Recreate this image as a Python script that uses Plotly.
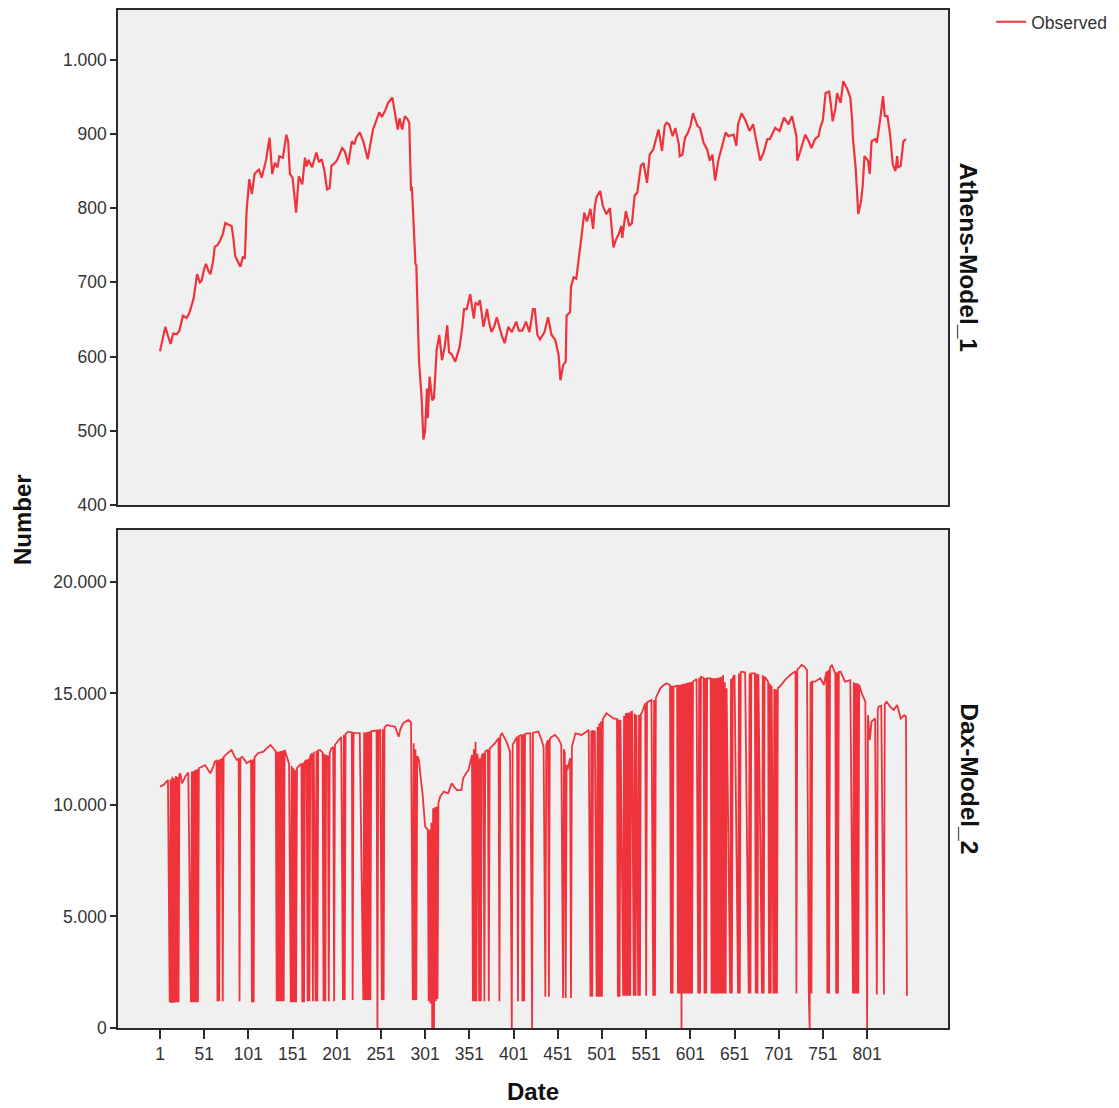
import plotly.graph_objects as go

# ---------------- data ----------------
athens_obs = [
    (1, 607), (4, 625), (7, 640), (10, 628), (13, 617), (16, 631), (20, 630), (23, 635),
    (27, 655), (31, 652), (34, 658), (39, 678), (43, 711), (46, 700), (48, 702), (51, 718),
    (53, 725), (56, 715), (58, 711), (61, 728), (63, 748), (66, 750), (69, 756), (72, 765),
    (75, 780), (78, 778), (82, 776), (84, 760), (86, 736), (89, 728), (92, 721), (95, 735),
    (97, 732), (99, 796), (102, 839), (105, 819), (108, 846), (111, 850), (113, 852),
    (116, 841), (118, 852), (121, 865), (125, 895), (128, 846), (131, 861), (134, 855),
    (136, 870), (140, 868), (144, 899), (146, 890), (148, 846), (151, 841), (155, 794),
    (158, 843), (162, 832), (165, 868), (167, 856), (169, 865), (173, 855), (176, 868),
    (178, 875), (181, 862), (184, 866), (187, 850), (190, 825), (193, 827), (195, 857),
    (198, 860), (201, 864), (204, 872), (207, 881), (210, 877), (214, 859), (218, 890),
    (221, 886), (223, 895), (227, 902), (231, 890), (236, 866), (239, 886), (242, 906),
    (246, 919), (249, 929), (252, 923), (256, 932), (259, 942), (264, 949), (266, 934),
    (270, 906), (272, 921), (275, 906), (278, 924), (281, 920), (283, 915), (285, 823),
    (286, 829), (288, 770), (290, 725), (291, 723), (293, 629), (294, 595), (297, 544),
    (299, 488), (301, 500), (303, 557), (304, 517), (306, 573), (309, 541), (311, 544),
    (314, 609), (317, 629), (320, 595), (323, 612), (326, 642), (328, 606), (331, 603),
    (335, 593), (338, 605), (340, 613), (343, 640), (345, 664), (348, 664), (352, 684),
    (356, 651), (358, 672), (361, 670), (363, 676), (367, 640), (371, 664), (373, 648),
    (376, 633), (379, 640), (382, 653), (385, 640), (388, 627), (391, 618), (395, 640),
    (399, 633), (404, 647), (407, 635), (411, 635), (415, 647), (419, 633), (423, 664),
    (425, 664), (428, 629), (431, 623), (436, 633), (440, 653), (444, 629), (448, 623),
    (452, 602), (454, 568), (457, 588), (460, 593), (461, 655), (465, 660), (466, 694),
    (469, 707), (472, 705), (475, 738), (478, 763), (481, 794), (484, 782), (488, 799),
    (491, 772), (493, 803), (495, 815), (499, 823), (502, 803), (506, 792), (510, 800),
    (514, 747), (517, 758), (520, 765), (523, 776), (524, 760), (528, 796), (532, 776),
    (535, 780), (538, 817), (541, 821), (545, 857), (548, 861), (552, 834), (555, 872),
    (559, 879), (565, 906), (569, 877), (572, 911), (574, 915), (577, 913), (581, 897),
    (584, 908), (588, 886), (589, 870), (592, 872), (595, 895), (598, 901), (601, 910),
    (604, 928), (609, 911), (612, 908), (616, 888), (620, 879), (623, 864), (626, 872),
    (629, 837), (633, 866), (637, 884), (641, 902), (644, 897), (650, 899), (653, 884),
    (655, 913), (659, 928), (663, 919), (668, 904), (672, 913), (675, 895), (680, 864),
    (684, 875), (688, 893), (691, 893), (697, 908), (702, 904), (707, 922), (712, 913),
    (716, 924), (721, 897), (722, 864), (725, 875), (731, 899), (735, 890), (738, 881),
    (742, 893), (746, 897), (748, 908), (751, 919), (754, 955), (758, 957), (760, 940),
    (762, 917), (765, 933), (767, 955), (771, 942), (774, 971), (778, 962), (782, 949),
    (784, 920), (785, 893), (788, 855), (791, 792), (794, 808), (796, 830), (798, 870),
    (802, 864), (804, 846), (806, 890), (810, 893), (812, 888), (816, 922), (819, 951),
    (821, 924), (824, 924), (827, 899), (830, 859), (833, 850), (835, 870), (836, 855),
    (839, 857), (842, 890), (845, 893),
]

dax_obs = [
    (1, 10820), (5, 10900), (10, 11120),
    (12, 1150), (13, 11150), (14, 1120), (15, 11270), (16, 1130), (17, 11200), (18, 1140),
    (19, 11300), (20, 1150), (21, 11250), (22, 1150), (23, 11350),
    (24, 11420), (26, 10970), (30, 11300), (33, 11450),
    (36, 1150), (37, 11500), (38, 1150), (39, 11520), (40, 1150), (41, 11580), (42, 1150),
    (43, 11600), (44, 1150), (45, 11650),
    (48, 11700), (52, 11790), (55, 11600), (58, 11420), (61, 11700), (63, 11940), (65, 11980),
    (66, 1200), (67, 12000), (68, 1200), (69, 12010), (71, 12050), (72, 1200), (73, 12150),
    (75, 12240), (78, 12350), (82, 12470), (85, 12200), (88, 12020),
    (90, 12080), (91, 1200), (92, 12120),
    (94, 12160), (97, 12000), (99, 11870), (102, 11950),
    (104, 12000), (105, 1150), (106, 12050), (107, 1150), (108, 12150),
    (112, 12320), (115, 12350), (118, 12390), (122, 12550), (126, 12690), (130, 12500), (132, 12400),
    (133, 1200), (134, 12390), (135, 1200), (136, 12400), (137, 1200), (138, 12420), (139, 1200),
    (140, 12440), (141, 1200), (142, 12470),
    (145, 12100), (147, 11850),
    (149, 1150), (150, 11750), (151, 1150), (152, 11650), (153, 1150), (154, 11570), (155, 1150),
    (156, 11650),
    (159, 11790), (161, 11850),
    (162, 1150), (163, 11900), (164, 1150), (165, 11950),
    (167, 12020), (168, 1200), (169, 12080), (170, 1200), (171, 12200),
    (173, 12300), (174, 1200), (175, 12390), (177, 1200), (178, 12430), (179, 1200), (180, 12450),
    (182, 12470), (185, 12350), (186, 1200), (187, 12300), (188, 1200), (189, 12200),
    (191, 12180), (192, 1200), (193, 12350), (195, 12540), (197, 12600), (198, 1200), (199, 12700),
    (203, 12910), (206, 13050), (208, 1250), (209, 13150), (210, 1250), (211, 13200),
    (214, 13290), (218, 13250), (219, 1250), (220, 13240), (222, 13230), (227, 13220),
    (231, 1250), (232, 13250), (233, 1250), (234, 13260), (235, 1250), (236, 13280), (237, 1250),
    (238, 13290), (239, 1250), (240, 13300),
    (243, 13320), (246, 13340), (247, 0), (248, 13350), (250, 13360),
    (252, 1250), (253, 13400), (254, 1250), (255, 13480),
    (258, 13590), (262, 13550), (267, 13510), (271, 13060), (273, 13400), (276, 13660),
    (279, 13750), (282, 13810), (285, 13700),
    (287, 1250), (288, 12770), (289, 1250), (290, 12500), (291, 1250), (292, 12200),
    (294, 12020), (296, 11200), (298, 10520), (301, 9030), (304, 8880),
    (305, 1200), (306, 8900), (307, 1100), (308, 9200), (309, 0), (310, 9850), (311, 0),
    (312, 9900), (313, 1200), (314, 9930), (315, 1300), (316, 10100),
    (318, 10370), (322, 10600), (327, 10520), (331, 10970), (334, 10800), (337, 10670),
    (342, 10670), (344, 11200), (347, 11400), (350, 11570), (354, 12240),
    (355, 1200), (356, 12500), (357, 1200), (358, 12840), (359, 1200), (360, 12300),
    (361, 11940), (362, 1200), (363, 12100), (364, 1200), (365, 12200),
    (367, 12320), (368, 1200), (369, 12400),
    (372, 12480), (373, 1200), (374, 12540),
    (377, 12650), (380, 12770), (384, 13000), (385, 1200), (386, 13100), (388, 13210),
    (393, 12840), (397, 12390),
    (399, 0), (400, 12700), (405, 13060), (406, 1200), (407, 13080), (410, 13150), (411, 1200),
    (412, 13170), (413, 1200), (414, 13190),
    (416, 13210), (420, 13210), (422, 0), (423, 13230), (425, 13250), (429, 13290),
    (432, 13000), (435, 12610),
    (437, 1400), (438, 12700), (440, 12910), (441, 1400), (442, 12950),
    (444, 13050), (448, 13140), (452, 12950), (455, 12690), (457, 1350), (458, 12500),
    (459, 12320), (460, 1350), (461, 11800), (462, 11570),
    (465, 12100), (466, 1350), (467, 12610),
    (471, 13210), (474, 13180), (478, 13140), (482, 13250), (486, 13360), (488, 1400),
    (489, 13340), (490, 1400), (491, 13320),
    (493, 13290), (495, 1400), (496, 13500), (497, 1400), (498, 13650), (499, 1400),
    (500, 13750), (501, 1400), (502, 13850),
    (506, 14110), (510, 14000), (514, 13880), (518, 13850), (519, 1400), (520, 13830),
    (521, 1400), (522, 13810),
    (525, 1450), (526, 14000), (527, 1450), (528, 14110), (529, 1450), (530, 14130),
    (531, 1450), (532, 14150), (533, 1450), (534, 14170), (535, 14180),
    (537, 1450), (538, 14100), (539, 1450), (540, 14030),
    (542, 1450), (543, 14050), (544, 1450), (545, 14080), (546, 14110),
    (550, 14560), (551, 1450), (552, 14600),
    (557, 14710), (559, 1450), (560, 14710), (561, 1450), (562, 14800),
    (564, 15000), (567, 15230), (570, 15350), (574, 15460), (578, 15380), (579, 1550),
    (580, 15350), (581, 1550), (582, 15300),
    (586, 15350), (587, 1550), (588, 15380), (589, 1550), (590, 15390), (591, 0), (592, 15420),
    (593, 1550), (594, 15440), (595, 1550), (596, 15460), (597, 1550), (598, 15480),
    (599, 1550), (600, 15500), (601, 1550), (602, 15510), (603, 1550), (604, 15530),
    (608, 15650), (610, 1550), (611, 15700), (612, 1550), (613, 15750),
    (616, 15700), (617, 1550), (618, 15690), (619, 1550), (620, 15680),
    (624, 15680), (625, 1550), (626, 15680), (627, 1550), (628, 15680), (629, 1550),
    (630, 15680), (631, 1550), (632, 15700), (633, 1550), (634, 15720), (635, 1550),
    (636, 15750), (637, 1550), (638, 15830), (639, 1550), (640, 15500), (641, 1550),
    (642, 15230),
    (646, 1550), (647, 15650), (648, 1550), (649, 15700),
    (651, 15830), (655, 1550), (656, 15900), (657, 1550), (658, 15950),
    (659, 15980), (663, 15940), (667, 1550), (668, 15900), (669, 1550), (670, 15900),
    (674, 15900), (675, 1550), (676, 15890), (677, 1550), (678, 15860),
    (682, 1550), (683, 15820), (684, 1550), (685, 15750),
    (686, 15700), (689, 15530), (690, 1550), (691, 15450), (692, 1550), (693, 15350),
    (695, 1550), (696, 15200), (697, 1550), (698, 15180), (699, 1550), (700, 15250),
    (702, 15300), (705, 15450), (708, 15600), (714, 15830), (718, 15950), (720, 16000),
    (721, 1550), (722, 16080), (724, 16150), (727, 16280), (730, 16200), (733, 16050),
    (735, 1550), (736, 0), (737, 15530), (738, 1550), (739, 15530),
    (742, 15530), (748, 15680), (752, 15380), (755, 15980), (756, 1550), (757, 16050),
    (758, 1550), (759, 16150),
    (761, 16280), (765, 15900), (766, 1550), (767, 15950), (768, 1550), (769, 15970),
    (771, 15980), (776, 15530), (782, 15600),
    (785, 1550), (786, 15500), (787, 1550), (788, 15460), (789, 1550), (790, 15460),
    (791, 1550), (792, 15400),
    (795, 15000), (799, 14630), (801, 0), (802, 14030), (804, 12910), (806, 13730),
    (810, 13880), (812, 1500), (813, 14300),
    (814, 14410), (817, 14450), (820, 1500), (821, 14520), (823, 14630), (827, 14410),
    (831, 14260), (835, 14480), (839, 13880), (843, 14030), (845, 13960), (846, 1450),
]

x_tick_vals = [1, 51, 101, 151, 201, 251, 301, 351, 401, 451, 501, 551, 601, 651, 701, 751, 801]
athens_ticks = [400, 500, 600, 700, 800, 900, 1000]
dax_ticks = [0, 5000, 10000, 15000, 20000]

athens_day = [d for d, v in athens_obs]
athens_val = [v for d, v in athens_obs]
dax_day = [d for d, v in dax_obs]
dax_val = [v for d, v in dax_obs]

# ---------------- figure ----------------
RED = "#ef333c"
FONT = "Liberation Sans, Arial, Helvetica, sans-serif"
TXT = "#333333"
DARK = "#111111"

fig = go.Figure()
fig.add_trace(go.Scatter(x=athens_day, y=athens_val, mode="lines", name="Observed",
                         line=dict(color=RED, width=2.2), xaxis="x", yaxis="y",
                         showlegend=True))
fig.add_trace(go.Scatter(x=dax_day, y=dax_val, mode="lines", name="Observed",
                         line=dict(color=RED, width=1.8), xaxis="x2", yaxis="y2",
                         showlegend=False))

axis_common = dict(showline=True, linecolor="#2b2b2b", linewidth=1.5, mirror=True,
                   showgrid=False, zeroline=False,
                   tickfont=dict(family=FONT, size=17.5, color=TXT))

xr = [-46.5, 892.5]
fig.update_layout(
    width=1119, height=1108,
    margin=dict(l=118, r=171, t=10, b=80, autoexpand=False),
    paper_bgcolor="white", plot_bgcolor="#f0f0f0",
    separators=",.",
    font=dict(family=FONT, color=TXT),
    xaxis=dict(domain=[0, 1], anchor="y", range=xr, showticklabels=False, ticks="",
               **axis_common),
    yaxis=dict(domain=[0.5138, 1], anchor="x", range=[400, 1067], tickvals=athens_ticks,
               tickformat=",d", ticks="outside", ticklen=6, tickwidth=1.5, tickcolor="#2b2b2b",
               **axis_common),
    xaxis2=dict(domain=[0, 1], anchor="y2", range=xr, tickvals=x_tick_vals,
                ticktext=[str(v) for v in x_tick_vals], ticks="outside", ticklen=9,
                tickwidth=1.5, tickcolor="#2b2b2b",
                title=dict(text="<b>Date</b>", font=dict(family=FONT, size=24, color=DARK),
                           standoff=20),
                **axis_common),
    yaxis2=dict(domain=[0, 0.4892], anchor="x2", range=[0, 22330], tickvals=dax_ticks,
                tickformat=",d", ticks="outside", ticklen=6, tickwidth=1.5, tickcolor="#2b2b2b",
                **axis_common),
    legend=dict(x=1.052, y=1.006, xanchor="left", yanchor="top", bgcolor="rgba(0,0,0,0)",
                font=dict(family=FONT, size=17.5, color=TXT), itemwidth=30,
                tracegroupgap=0),
    annotations=[
        dict(text="<b>Number</b>", x=-0.1157, y=0.5, xref="paper", yref="paper",
             xanchor="center", yanchor="middle",
             textangle=-90, showarrow=False, font=dict(family=FONT, size=24, color=DARK)),
        dict(text="<b>Athens-Model_1</b>", x=1.025, y=0.7569, xref="paper", yref="paper",
             xanchor="center", yanchor="middle", textangle=90, showarrow=False,
             font=dict(family=FONT, size=24.5, color=DARK)),
        dict(text="<b>Dax-Model_2</b>", x=1.025, y=0.2446, xref="paper", yref="paper",
             xanchor="center", yanchor="middle", textangle=90, showarrow=False,
             font=dict(family=FONT, size=24.5, color=DARK)),
    ],
)

fig.write_html("out.html")
